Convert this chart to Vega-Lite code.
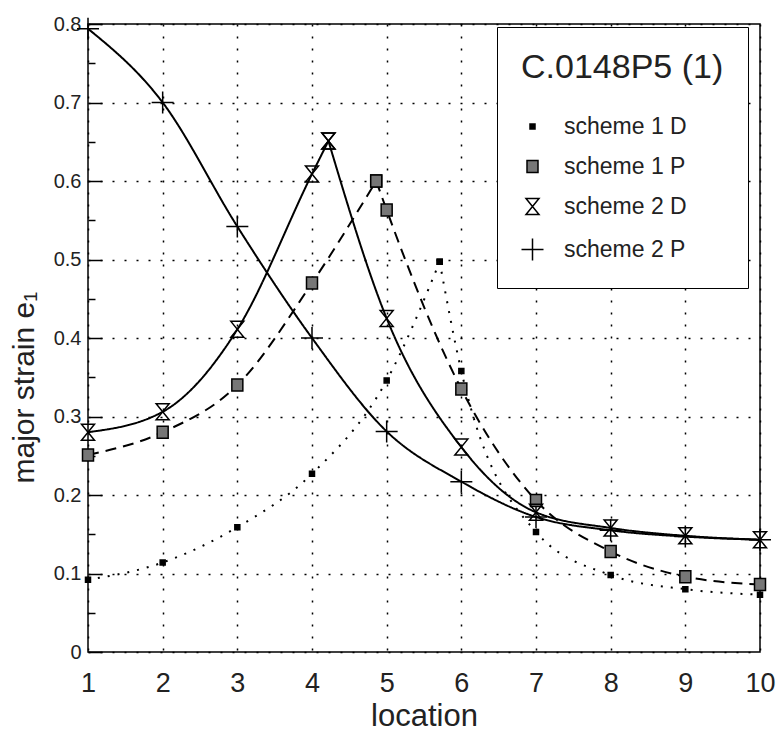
{
  "$schema": "https://vega.github.io/schema/vega-lite/v6.json",
  "width": 672,
  "height": 628,
  "autosize": "none",
  "padding": {"left": 88, "top": 24, "right": 16, "bottom": 81},
  "background": "white",
  "config": {
    "view": {"stroke": "black", "strokeWidth": 1.5},
    "font": "Liberation Sans"
  },
  "data": {
    "values": [
      {"series": "scheme 1 D", "seg": "a", "location": 1, "strain": 0.092},
      {"series": "scheme 1 D", "seg": "a", "location": 2, "strain": 0.114},
      {"series": "scheme 1 D", "seg": "a", "location": 3, "strain": 0.159},
      {"series": "scheme 1 D", "seg": "a", "location": 4, "strain": 0.227},
      {"series": "scheme 1 D", "seg": "a", "location": 5, "strain": 0.346},
      {"series": "scheme 1 D", "seg": "a", "location": 5.71, "strain": 0.497},
      {"series": "scheme 1 D", "seg": "b", "location": 5.71, "strain": 0.497},
      {"series": "scheme 1 D", "seg": "b", "location": 6, "strain": 0.358},
      {"series": "scheme 1 D", "seg": "b", "location": 7, "strain": 0.153},
      {"series": "scheme 1 D", "seg": "b", "location": 8, "strain": 0.098},
      {"series": "scheme 1 D", "seg": "b", "location": 9, "strain": 0.08},
      {"series": "scheme 1 D", "seg": "b", "location": 10, "strain": 0.073},
      {"series": "scheme 1 P", "seg": "a", "location": 1, "strain": 0.251},
      {"series": "scheme 1 P", "seg": "a", "location": 2, "strain": 0.28},
      {"series": "scheme 1 P", "seg": "a", "location": 3, "strain": 0.34},
      {"series": "scheme 1 P", "seg": "a", "location": 4, "strain": 0.47},
      {"series": "scheme 1 P", "seg": "a", "location": 4.86, "strain": 0.6},
      {"series": "scheme 1 P", "seg": "b", "location": 4.86, "strain": 0.6},
      {"series": "scheme 1 P", "seg": "b", "location": 5, "strain": 0.563},
      {"series": "scheme 1 P", "seg": "b", "location": 6, "strain": 0.335},
      {"series": "scheme 1 P", "seg": "b", "location": 7, "strain": 0.193},
      {"series": "scheme 1 P", "seg": "b", "location": 8, "strain": 0.128},
      {"series": "scheme 1 P", "seg": "b", "location": 9, "strain": 0.096},
      {"series": "scheme 1 P", "seg": "b", "location": 10, "strain": 0.086},
      {"series": "scheme 2 D", "seg": "a", "location": 1, "strain": 0.28},
      {"series": "scheme 2 D", "seg": "a", "location": 2, "strain": 0.306},
      {"series": "scheme 2 D", "seg": "a", "location": 3, "strain": 0.411},
      {"series": "scheme 2 D", "seg": "a", "location": 4, "strain": 0.609},
      {"series": "scheme 2 D", "seg": "a", "location": 4.22, "strain": 0.651},
      {"series": "scheme 2 D", "seg": "b", "location": 4.22, "strain": 0.651},
      {"series": "scheme 2 D", "seg": "b", "location": 5, "strain": 0.425},
      {"series": "scheme 2 D", "seg": "b", "location": 6, "strain": 0.261},
      {"series": "scheme 2 D", "seg": "b", "location": 7, "strain": 0.178},
      {"series": "scheme 2 D", "seg": "b", "location": 8, "strain": 0.158},
      {"series": "scheme 2 D", "seg": "b", "location": 9, "strain": 0.148},
      {"series": "scheme 2 D", "seg": "b", "location": 10, "strain": 0.143},
      {"series": "scheme 2 P", "seg": "a", "location": 1, "strain": 0.794},
      {"series": "scheme 2 P", "seg": "a", "location": 2, "strain": 0.7},
      {"series": "scheme 2 P", "seg": "a", "location": 3, "strain": 0.542},
      {"series": "scheme 2 P", "seg": "a", "location": 4, "strain": 0.4},
      {"series": "scheme 2 P", "seg": "a", "location": 5, "strain": 0.281},
      {"series": "scheme 2 P", "seg": "a", "location": 6, "strain": 0.217},
      {"series": "scheme 2 P", "seg": "a", "location": 7, "strain": 0.172},
      {"series": "scheme 2 P", "seg": "a", "location": 8, "strain": 0.155},
      {"series": "scheme 2 P", "seg": "a", "location": 9, "strain": 0.147},
      {"series": "scheme 2 P", "seg": "a", "location": 10, "strain": 0.143}
    ]
  },
  "encoding": {
    "x": {
      "field": "location",
      "type": "quantitative",
      "scale": {"domain": [1, 10], "nice": false, "zero": false},
      "axis": {
        "values": [1, 2, 3, 4, 5, 6, 7, 8, 9, 10],
        "format": "d",
        "title": "location",
        "titleFont": "Liberation Sans",
        "titleFontSize": 31,
        "titleFontWeight": "normal",
        "titleColor": "#222",
        "titlePadding": 5,
        "labelFont": "Liberation Sans",
        "labelFontSize": 27,
        "labelColor": "#222",
        "labelPadding": 18,
        "labelFlush": false,
        "labelOverlap": false,
        "ticks": false,
        "domain": false,
        "grid": true,
        "gridColor": "black",
        "gridDash": [2, 10],
        "gridWidth": 1.5
      }
    },
    "y": {
      "field": "strain",
      "type": "quantitative",
      "scale": {"domain": [0, 0.8], "nice": false, "zero": true},
      "axis": {
        "values": [0, 0.05, 0.1, 0.15, 0.2, 0.25, 0.3, 0.35, 0.4, 0.45, 0.5, 0.55, 0.6, 0.65, 0.7, 0.75, 0.8],
        "labelExpr": "abs(round(datum.value*100) % 10) < 0.5 ? (datum.value == 0 ? '0' : format(datum.value, '.1f')) : ''",
        "labelFontSize": 20,
        "labelColor": "#222",
        "labelPadding": 21,
        "labelOverlap": false,
        "labelFlush": false,
        "title": "major strain e₁",
        "titleFontSize": 30,
        "titleFontWeight": "normal",
        "titleColor": "#222",
        "titleAngle": -90,
        "titleAlign": "left",
        "titleBaseline": "alphabetic",
        "titleX": -55,
        "titleY": 459,
        "domain": false,
        "ticks": true,
        "tickColor": "black",
        "tickWidth": 1.5,
        "tickSize": {"condition": {"test": "abs(round(datum.value*100) % 10) < 0.5", "value": -14}, "value": -7},
        "grid": true,
        "gridColor": "black",
        "gridDash": [2, 10],
        "gridWidth": 1.5,
        "gridOpacity": {"condition": {"test": "abs(round(datum.value*100) % 10) < 0.5", "value": 1}, "value": 0}
      }
    }
  },
  "layer": [
    {
      "mark": {"type": "line", "interpolate": "monotone", "color": "black", "strokeWidth": 2},
      "encoding": {
        "detail": {"field": "seg", "type": "nominal"},
        "strokeDash": {
          "field": "series",
          "type": "nominal",
          "scale": {
            "range": [[2, 8], [11, 7], [1, 0], [1, 0]]
          },
          "legend": null
        }
      }
    },
    {
      "mark": {"type": "point", "stroke": "black", "strokeWidth": 1.5, "opacity": 1, "size": 400, "filled": true},
      "encoding": {
        "shape": {
          "field": "series",
          "type": "nominal",
          "scale": {
            "domain": ["scheme 1 D", "scheme 1 P", "scheme 2 D", "scheme 2 P"],
            "range": [
              "M-0.25,-0.25H0.25V0.25H-0.25Z",
              "M-0.55,-0.6H0.55V0.6H-0.55Z",
              "M-0.65,-0.8L0.65,-0.8L-0.65,0.8L0.65,0.8Z",
              "M-1.1,0H1.1M0,-1.1V1.1"
            ]
          },
          "legend": {
            "title": "C.0148P5 (1)",
            "orient": "none",
            "legendX": 409,
            "legendY": 3,
            "fillColor": "white",
            "strokeColor": "black",
            "padding": 24,
            "titleFont": "Liberation Sans",
            "titleFontSize": 34,
            "titleFontWeight": "normal",
            "titleColor": "#222",
            "titlePadding": 30,
            "titleLimit": 400,
            "labelFont": "Liberation Sans",
            "labelFontSize": 23,
            "labelColor": "#222",
            "labelOffset": 20,
            "labelLimit": 300,
            "rowPadding": 16,
            "symbolSize": 400,
            "symbolOpacity": 1,
            "encode": {
              "legend": {"update": {"strokeWidth": {"value": 2}}},
              "symbols": {
                "update": {
                  "stroke": {"value": "black"},
                  "strokeWidth": {"value": 1.5},
                  "shape": {"signal": "datum.value == 'scheme 1 D' ? 'M-0.95,-0.08H-0.79V0.08H-0.95Z M-0.25,-0.25H0.25V0.25H-0.25Z M0.79,-0.08H0.95V0.08H0.79Z' : datum.value == 'scheme 1 P' ? 'M-1.2,0H-0.55 M-0.55,-0.6H0.55V0.6H-0.55Z M0.8,-0.06H0.92V0.06H0.8Z' : datum.value == 'scheme 2 D' ? 'M-0.65,-0.8L0.65,-0.8L-0.65,0.8L0.65,0.8Z M-0.9,0H0.9' : 'M-1.1,0H1.1M0,-1.1V1.1'"}
                }
              }
            }
          }
        },
        "fill": {
          "field": "series",
          "type": "nominal",
          "scale": {
            "domain": ["scheme 1 D", "scheme 1 P", "scheme 2 D", "scheme 2 P"],
            "range": ["black", "#777777", "transparent", "transparent"]
          },
          "legend": {
            "title": "C.0148P5 (1)",
            "orient": "none",
            "legendX": 409,
            "legendY": 3,
            "fillColor": "white",
            "strokeColor": "black",
            "padding": 24,
            "titleFont": "Liberation Sans",
            "titleFontSize": 34,
            "titleFontWeight": "normal",
            "titleColor": "#222",
            "titlePadding": 30,
            "titleLimit": 400,
            "labelFont": "Liberation Sans",
            "labelFontSize": 23,
            "labelColor": "#222",
            "labelOffset": 20,
            "labelLimit": 300,
            "rowPadding": 16,
            "symbolSize": 400,
            "symbolOpacity": 1
          }
        }
      }
    }
  ]
}
